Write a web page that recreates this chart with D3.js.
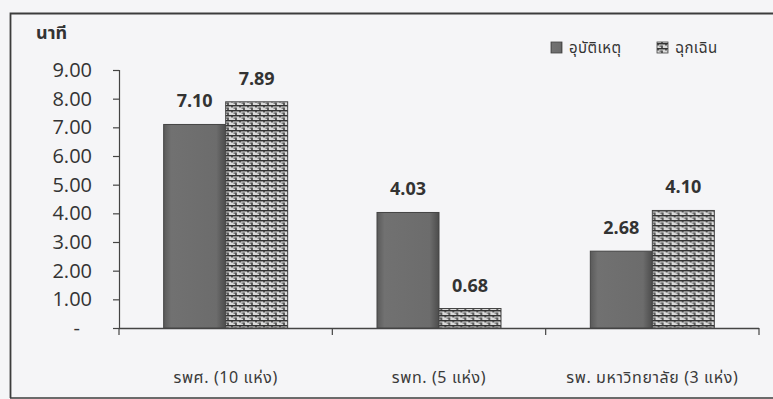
<!DOCTYPE html>
<html><head><meta charset="utf-8">
<script src="https://cdn.jsdelivr.net/npm/d3@7"></script>
<style>
html,body{margin:0;padding:0;background:#f5f5f7;}
svg{display:block;}
</style></head>
<body>
<svg id="chart" width="773" height="399"></svg>
<script>
const categories = ["รพศ. (10 แห่ง)", "รพท. (5 แห่ง)", "รพ. มหาวิทยาลัย (3 แห่ง)"];
const seriesNames = ["อุบัติเหตุ", "ฉุกเฉิน"];
const accidentValues = [7.10, 4.03, 2.68];
const emergencyValues = [7.89, 0.68, 4.10];
const yTicks = [0, 1, 2, 3, 4, 5, 6, 7, 8, 9];
const yTitle = "นาที";

const svg = d3.select("#chart");
const W = 773, H = 399;
const pLeft = 119, pRight = 759, pTop = 70, pBottom = 328;
const numFont = "'Open Sans', 'DejaVu Sans', sans-serif";
const thaiFont = "'Noto Sans Thai', 'Noto Sans', Tahoma, sans-serif";

svg.append("rect").attr("width", W).attr("height", H).attr("fill", "#f5f5f7");

// defs: pattern and gradient
const defs = svg.append("defs");
const pat = defs.append("pattern").attr("id", "brick").attr("patternUnits", "userSpaceOnUse")
  .attr("width", 8).attr("height", 5);
pat.append("rect").attr("width", 8).attr("height", 5).attr("fill", "#dadada");
pat.append("line").attr("x1", 0).attr("x2", 8).attr("y1", 0.7).attr("y2", 0.7).attr("stroke", "#333").attr("stroke-width", 1.5);
pat.append("line").attr("x1", 1).attr("x2", 1).attr("y1", 0).attr("y2", 2.6).attr("stroke", "#333").attr("stroke-width", 1.5);
pat.append("line").attr("x1", 5).attr("x2", 5).attr("y1", 2.4).attr("y2", 5).attr("stroke", "#333").attr("stroke-width", 1.5);
pat.append("rect").attr("x", 2.5).attr("y", 2.6).attr("width", 2).attr("height", 1).attr("fill", "#4a4a4a");

const grad = defs.append("linearGradient").attr("id", "darkGrad").attr("x1", "0").attr("x2", "1").attr("y1", "0").attr("y2", "0");
grad.append("stop").attr("offset", "0").attr("stop-color", "#5a5a5a");
grad.append("stop").attr("offset", "0.12").attr("stop-color", "#717171");
grad.append("stop").attr("offset", "0.85").attr("stop-color", "#6c6c6c");
grad.append("stop").attr("offset", "1").attr("stop-color", "#4c4c4c");

// frame
svg.append("path").attr("d", `M773,13.5 L10.5,13.5 L10.5,398`).attr("fill", "none").attr("stroke", "#3c3c3c").attr("stroke-width", 1.8);
svg.append("line").attr("x1", 10).attr("x2", 773).attr("y1", 398).attr("y2", 398).attr("stroke", "#3c3c3c").attr("stroke-width", 1.5);

// scales
const x0 = d3.scaleBand().domain(categories).range([pLeft, pRight]).padding(0);
const groupW = 124;
const x1 = d3.scaleBand().domain(seriesNames)
  .range([x0.bandwidth() / 2 - groupW / 2, x0.bandwidth() / 2 + groupW / 2]).padding(0);
const y = d3.scaleLinear().domain([0, 9]).range([pBottom, pTop]);

// y axis
const yAxis = d3.axisLeft(y).tickValues(yTicks).tickSize(6).tickPadding(21)
  .tickFormat(d => d === 0 ? "-" : d3.format(".2f")(d));
const ya = svg.append("g").attr("transform", `translate(${pLeft},0)`).call(yAxis);
ya.select(".domain").attr("stroke", "#444").attr("stroke-width", 1.2);
ya.selectAll(".tick line").attr("stroke", "#444").attr("stroke-width", 1.2);
ya.selectAll(".tick text").attr("font-family", numFont).attr("font-size", 20).attr("fill", "#333")
  .attr("dx", d => d === 0 ? -12 : 0);

// x axis
const boundaries = [pLeft].concat(categories.map(c => x0(c) + x0.bandwidth()));
svg.append("line").attr("x1", pLeft).attr("x2", pRight).attr("y1", pBottom + 0.5).attr("y2", pBottom + 0.5)
  .attr("stroke", "#444").attr("stroke-width", 1.5);
svg.selectAll(".xt").data(boundaries).enter().append("line")
  .attr("x1", d => d).attr("x2", d => d).attr("y1", pBottom).attr("y2", pBottom + 7)
  .attr("stroke", "#444").attr("stroke-width", 1.2);
svg.selectAll(".xl").data(categories).enter().append("text")
  .attr("x", d => x0(d) + x0.bandwidth() / 2).attr("y", 383)
  .attr("text-anchor", "middle").attr("font-family", thaiFont).attr("font-size", 16)
  .attr("letter-spacing", 0.6).attr("fill", "#3a3a3a")
  .text(d => d);

// y title
svg.append("text").attr("x", 36).attr("y", 39).attr("font-family", thaiFont).attr("font-size", 18)
  .attr("fill", "#333").attr("font-weight", "bold").text(yTitle);

// bars
const data = categories.map((c, i) => ({ cat: c, vals: [
  { s: seriesNames[0], v: accidentValues[i] },
  { s: seriesNames[1], v: emergencyValues[i] }
]}));
const fills = { [seriesNames[0]]: "url(#darkGrad)", [seriesNames[1]]: "url(#brick)" };
const g = svg.selectAll(".grp").data(data).enter().append("g").attr("transform", d => `translate(${x0(d.cat)},0)`);
g.selectAll("rect").data(d => d.vals).enter().append("rect")
  .attr("x", d => x1(d.s)).attr("y", d => y(d.v))
  .attr("width", x1.bandwidth()).attr("height", d => y(0) - y(d.v))
  .attr("fill", d => fills[d.s]).attr("stroke", "#444").attr("stroke-width", 1);
g.selectAll(".val").data(d => d.vals).enter().append("text")
  .attr("x", d => x1(d.s) + x1.bandwidth() / 2).attr("y", d => y(d.v) - 17)
  .attr("text-anchor", "middle").attr("font-family", numFont).attr("font-weight", "bold")
  .attr("font-size", 18).attr("fill", "#333").text(d => d3.format(".2f")(d.v));

// legend
const legX = [551, 657];
const lg = svg.selectAll(".leg").data(seriesNames).enter().append("g")
  .attr("transform", (d, i) => `translate(${legX[i]},48)`);
lg.append("rect").attr("x", 0).attr("y", -6).attr("width", 11).attr("height", 11)
  .attr("fill", d => fills[d]).attr("stroke", "#444").attr("stroke-width", 0.8);
lg.append("text").attr("x", 18).attr("y", 5).attr("font-family", thaiFont).attr("font-size", 15)
  .attr("letter-spacing", 0.4).attr("fill", "#333").text(d => d);
</script>
</body></html>
